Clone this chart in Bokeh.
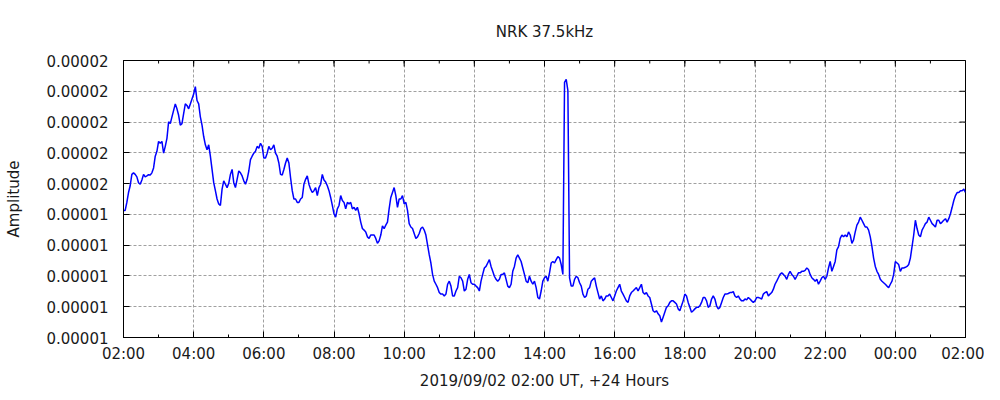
import math
import pandas as pd
from bokeh.plotting import figure
from bokeh.models import FixedTicker, ColumnDataSource, Range1d
from bokeh.embed import file_html
from bokeh.resources import INLINE

title_text = "NRK 37.5kHz"
x_label = "2019/09/02 02:00 UT, +24 Hours"
y_label = "Amplitude"
t_start = "2019-09-02 02:00"
t_end = "2019-09-03 02:00"

x_tick_labels = ["02:00", "04:00", "06:00", "08:00", "10:00", "12:00", "14:00",
                 "16:00", "18:00", "20:00", "22:00", "00:00", "02:00"]
# amplitude in units of 1e-6
y_tick_values = [11, 12, 13, 14, 15, 16, 17, 18, 19, 20]
y_tick_labels = ["0.00001", "0.00001", "0.00001", "0.00001", "0.00001",
                 "0.00002", "0.00002", "0.00002", "0.00002", "0.00002"]

amp_02_06 = [15.13, 15.13, 15.39, 15.71, 15.93, 16.30, 16.35, 16.30, 16.22, 16.03,
             15.98, 16.12, 16.30, 16.22, 16.25, 16.29, 16.28, 16.35, 16.51, 16.89,
             17.05, 17.37, 17.31, 17.37, 16.99, 17.21, 17.47, 18.01, 17.95, 18.17,
             18.38, 18.59, 18.43, 18.22, 17.90, 17.95, 18.27, 18.59, 18.54, 18.43,
             18.59, 18.75, 18.91, 19.15, 18.70, 18.59, 18.17, 17.90, 17.53, 17.26,
             17.10, 17.26, 16.89, 16.46, 16.03, 15.77, 15.50, 15.34, 15.29, 15.82,
             16.09, 15.98, 15.87, 16.01, 16.30, 16.46, 16.03, 15.87, 16.14, 16.41,
             16.35, 16.25, 16.09, 15.98, 16.14, 16.41, 16.78, 16.89, 16.99, 17.05,
             17.21, 17.15, 17.31, 17.21]
amp_06_10 = [16.83, 16.83, 16.99, 17.21, 17.10, 17.15, 17.26, 16.99, 16.89, 16.67,
             16.30, 16.28, 16.46, 16.67, 16.83, 16.67, 16.19, 15.77, 15.50, 15.50,
             15.39, 15.39, 15.50, 15.55, 15.98, 16.14, 16.25, 15.98, 15.82, 15.71,
             15.77, 15.87, 15.61, 15.87, 15.98, 16.30, 16.12, 16.05, 15.93, 15.77,
             15.55, 15.29, 15.02, 14.91, 15.18, 15.29, 15.61, 15.45, 15.39, 15.18,
             15.39, 15.34, 15.39, 15.18, 15.23, 15.13, 15.23, 15.02, 14.75, 14.54,
             14.49, 14.43, 14.27, 14.22, 14.33, 14.33, 14.33, 14.22, 14.06, 14.14,
             14.33, 14.63, 14.54, 14.65, 14.75, 15.18, 15.55, 15.71, 15.87, 15.61,
             15.23, 15.50, 15.50, 15.61]
amp_10_14 = [15.34, 15.39, 15.13, 14.70, 14.59, 14.54, 14.38, 14.22, 14.27, 14.38,
             14.54, 14.59, 14.49, 14.33, 14.01, 13.69, 13.42, 13.05, 12.83, 12.73,
             12.62, 12.46, 12.41, 12.41, 12.35, 12.41, 12.73, 12.83, 12.67, 12.35,
             12.35, 12.51, 12.62, 12.99, 12.94, 12.83, 12.51, 12.57, 12.89, 13.05,
             12.78, 12.73, 12.73, 12.67, 12.62, 12.51, 12.83, 13.05, 13.26, 13.31,
             13.42, 13.53, 13.31, 13.15, 12.99, 12.89, 12.83, 12.89, 13.05, 13.05,
             13.10, 12.89, 12.67, 12.62, 12.73, 13.15, 13.31, 13.58, 13.69, 13.58,
             13.47, 13.26, 13.05, 12.83, 12.78, 12.99, 12.83, 12.73, 12.83, 12.62,
             12.30, 12.25, 12.51, 12.83]
amp_14_18 = [12.94, 12.99, 12.83, 13.10, 13.42, 13.47, 13.42, 13.53, 13.63, 13.58,
             13.37, 13.05, 19.29, 19.39, 19.02, 12.94, 12.67, 12.67, 12.89, 12.99,
             12.94, 12.78, 12.67, 12.41, 12.30, 12.35, 12.57, 12.62, 12.83, 12.89,
             12.94, 12.67, 12.46, 12.25, 12.35, 12.19, 12.25, 12.35, 12.35, 12.41,
             12.30, 12.19, 12.35, 12.51, 12.62, 12.73, 12.51, 12.41, 12.30, 12.19,
             12.14, 12.35, 12.46, 12.51, 12.57, 12.62, 12.51, 12.62, 12.73, 12.46,
             12.41, 12.46, 12.35, 12.30, 12.09, 11.87, 11.82, 11.87, 11.77, 11.71,
             11.50, 11.66, 11.82, 11.98, 12.03, 12.14, 12.19, 12.19, 12.14, 12.09,
             11.93, 11.87, 12.03, 12.19]
amp_18_22 = [12.41, 12.35, 12.14, 11.98, 11.82, 11.87, 11.93, 11.98, 11.98, 12.03,
             12.14, 12.30, 12.30, 12.19, 11.98, 12.03, 12.25, 12.35, 12.25, 12.03,
             11.93, 11.98, 12.14, 12.30, 12.41, 12.41, 12.43, 12.46, 12.46, 12.49,
             12.35, 12.30, 12.35, 12.25, 12.19, 12.19, 12.25, 12.22, 12.30, 12.25,
             12.19, 12.14, 12.19, 12.30, 12.30, 12.28, 12.25, 12.41, 12.46, 12.49,
             12.35, 12.41, 12.46, 12.57, 12.73, 12.83, 12.94, 13.05, 13.10, 13.05,
             12.99, 12.89, 13.05, 13.15, 13.05, 12.99, 12.89, 12.99, 13.10, 13.10,
             13.15, 13.15, 13.18, 13.26, 13.21, 13.05, 12.94, 12.89, 12.83, 12.89,
             12.73, 12.83, 12.94, 12.99]
amp_22_02 = [12.89, 12.99, 13.26, 13.47, 13.15, 13.31, 13.47, 13.85, 13.95, 14.22,
             14.33, 14.27, 14.33, 14.27, 14.43, 14.33, 14.06, 14.17, 14.43, 14.65,
             14.75, 14.91, 14.81, 14.70, 14.59, 14.59, 14.49, 14.27, 13.95, 13.58,
             13.31, 13.15, 13.05, 12.89, 12.83, 12.78, 12.73, 12.67, 12.62, 12.73,
             12.83, 13.05, 13.47, 13.42, 13.37, 13.15, 13.26, 13.26, 13.28, 13.31,
             13.37, 13.58, 13.95, 14.33, 14.81, 14.54, 14.33, 14.27, 14.49, 14.59,
             14.70, 14.75, 14.91, 14.81, 14.70, 14.65, 14.59, 14.81, 14.81, 14.70,
             14.75, 14.81, 14.86, 14.75, 14.86, 15.02, 15.23, 15.45, 15.61, 15.71,
             15.71, 15.77, 15.77, 15.82, 15.71]

amplitude_u = amp_02_06 + amp_06_10 + amp_10_14 + amp_14_18 + amp_18_22 + amp_22_02
times = pd.date_range(t_start, t_end, periods=len(amplitude_u))

source = ColumnDataSource(data=dict(time=times, amp=amplitude_u))

major_ms = [float(t.value // 10**6) for t in pd.date_range(t_start, t_end, freq="2h")]
minor_ms = [float(t.value // 10**6) for t in pd.date_range(t_start, t_end, freq="1h")]

FONT = "DejaVu Sans"
TXT = "#1a1a1a"

p = figure(width=984, height=392, x_axis_type="datetime",
           output_backend="svg", toolbar_location=None,
           min_border_left=123, min_border_right=19,
           min_border_top=58, min_border_bottom=53)
p.x_range = Range1d(major_ms[0], major_ms[-1])
p.y_range = Range1d(y_tick_values[0], y_tick_values[-1])

p.title.text = title_text
p.title.align = "center"
p.title.text_font = FONT
p.title.text_font_size = "15px"
p.title.text_font_style = "normal"
p.title.text_color = TXT
p.title.standoff = 40

p.line(x="time", y="amp", source=source, line_color="#0000ff", line_width=1.5)

# mirrored inward ticks on the top and right frame edges
p.scatter(x=major_ms, y=[y_tick_values[-1]] * len(major_ms), marker="dash",
          angle=math.pi / 2, size=12, line_color="black", line_width=1)
p.scatter(x=minor_ms, y=[y_tick_values[-1]] * len(minor_ms), marker="dash",
          angle=math.pi / 2, size=6, line_color="black", line_width=1)
p.scatter(x=[major_ms[-1]] * len(y_tick_values), y=y_tick_values, marker="dash",
          size=12, line_color="black", line_width=1)

bottom_axis = p.below[0]
left_axis = p.left[0]

bottom_axis.ticker = FixedTicker(ticks=major_ms, minor_ticks=minor_ms)
bottom_axis.major_label_overrides = dict(zip(major_ms, x_tick_labels))
left_axis.ticker = FixedTicker(ticks=y_tick_values, minor_ticks=[])
left_axis.major_label_overrides = dict(zip([float(v) for v in y_tick_values], y_tick_labels))
bottom_axis.axis_label = x_label
left_axis.axis_label = y_label

for ax in [bottom_axis, left_axis]:
    ax.axis_line_color = "black"
    ax.axis_line_width = 1
    ax.major_tick_line_color = "black"
    ax.minor_tick_line_color = "black"
    ax.major_tick_in = 6
    ax.major_tick_out = 0
    ax.minor_tick_in = 3
    ax.minor_tick_out = 0
    ax.major_label_text_font = FONT
    ax.major_label_text_font_size = "15px"
    ax.major_label_text_color = TXT
    ax.axis_label_text_font = FONT
    ax.axis_label_text_font_size = "15px"
    ax.axis_label_text_font_style = "normal"
    ax.axis_label_text_color = TXT

bottom_axis.major_label_standoff = 7
bottom_axis.axis_label_standoff = 6
left_axis.major_label_standoff = 15
left_axis.axis_label_standoff = 20

p.xgrid.grid_line_color = "#a0a0a0"
p.ygrid.grid_line_color = "#a0a0a0"
p.xgrid.grid_line_dash = "3 2"
p.ygrid.grid_line_dash = "3 2"
p.outline_line_color = "black"
p.background_fill_color = "white"
p.border_fill_color = "white"

open("out.html", "w").write(file_html(p, INLINE))
